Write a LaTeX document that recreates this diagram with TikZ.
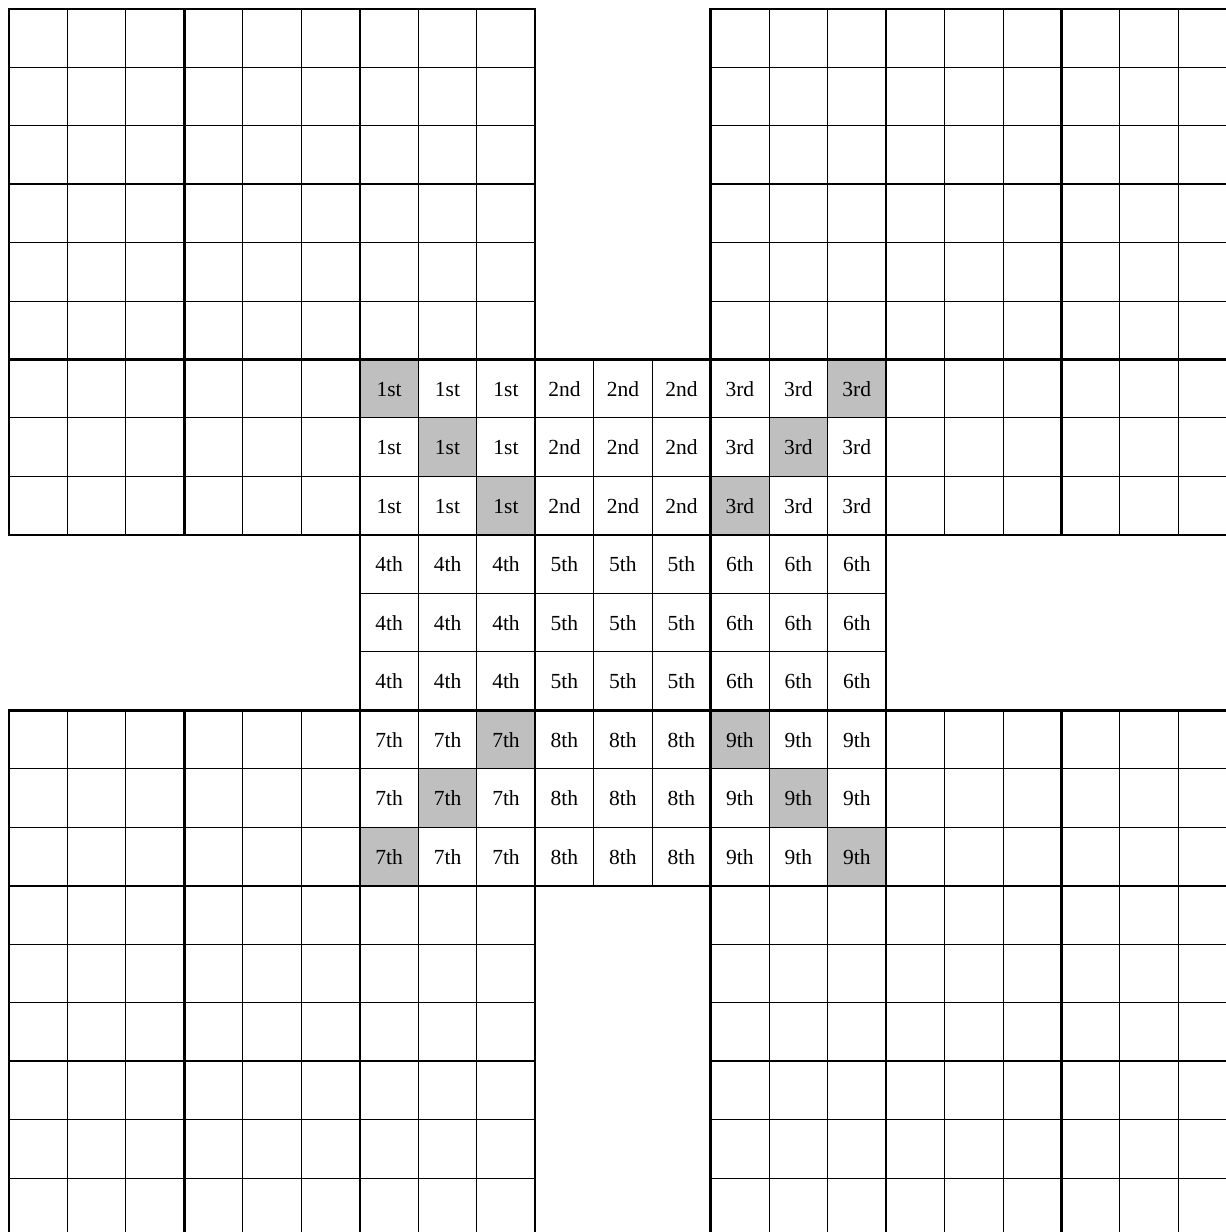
\documentclass[tikz,border=0pt]{standalone}
\usepackage{fontspec}
\setmainfont{Liberation Serif}
\tikzset{
  gridthin/.style={line width=1pt, black},
  gridthick/.style={line width=2.3pt, black, line cap=rect},
  shadecell/.style={fill=black!25, draw=none},
  lab/.style={font=\fontsize{21.5}{24}\selectfont, inner sep=0pt, text height=15pt, text depth=0pt, anchor=center}
}
\begin{document}
\begin{tikzpicture}
\useasboundingbox (0,0) rectangle (1226pt,-1232pt);
\clip (0,0) rectangle (1226pt,-1232pt);
\begin{scope}[shift={(9pt,-8.7pt)}, x=58.47pt, y=-58.47pt]
  % shaded cells
  \foreach \r/\c in {6/6,7/7,8/8,6/14,7/13,8/12,12/8,13/7,14/6,12/12,13/13,14/14}
    \fill[shadecell] (\c,\r) rectangle (\c+1,\r+1);
  % thin grid
  \foreach \gx/\gy in {0/0,12/0,6/6,0/12,12/12} {
    \foreach \i in {0,...,9} {
      \draw[gridthin] (\gx+\i,\gy) -- (\gx+\i,\gy+9);
      \draw[gridthin] (\gx,\gy+\i) -- (\gx+9,\gy+\i);
    }
  }
  % thick box lines
  \foreach \gx/\gy in {0/0,12/0,6/6,0/12,12/12} {
    \foreach \i in {0,3,6,9} {
      \draw[gridthick] (\gx+\i,\gy) -- (\gx+\i,\gy+9);
      \draw[gridthick] (\gx,\gy+\i) -- (\gx+9,\gy+\i);
    }
  }
  % labels in the centre grid
  \foreach \r in {0,...,8} {
    \foreach \c in {0,...,8} {
      \pgfmathtruncatemacro\b{int(\r/3)*3+int(\c/3)+1}
      \node[lab] (t-\r-\c) at (6.5+\c,6.5+\r) {\b\ifcase\b\or st\or nd\or rd\else th\fi};
    }
  }
\end{scope}
\end{tikzpicture}
\end{document}
